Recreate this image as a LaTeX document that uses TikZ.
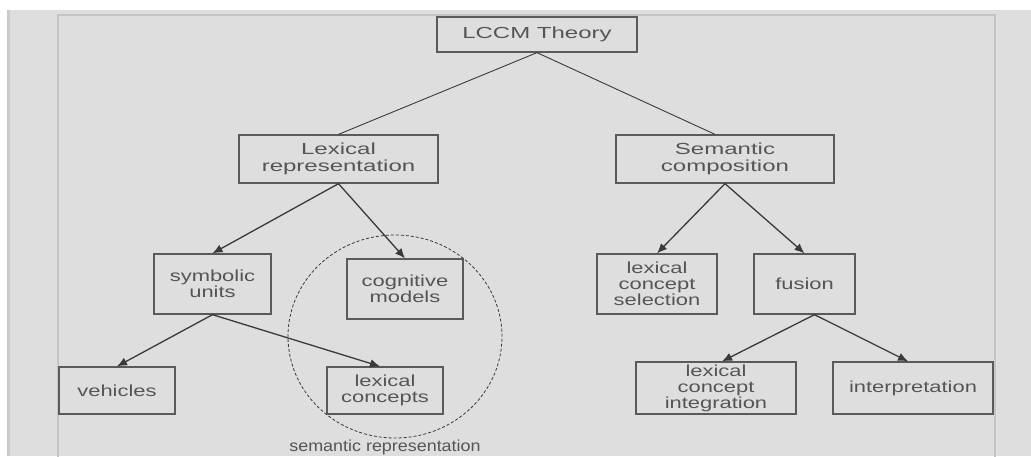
\documentclass[tikz,border=0pt]{standalone}
\usepackage{fontspec}
\setmainfont{Liberation Sans}
\newfontfamily\fbig{Liberation Sans}[FakeStretch=1.5]
\newfontfamily\fsmall{Liberation Sans}[FakeStretch=1.37]
\newfontfamily\flabel{Liberation Sans}[FakeStretch=1.12]
\usetikzlibrary{arrows.meta,calc}
\definecolor{bggray}{HTML}{DEDEDE}
\definecolor{edgegray}{HTML}{CACACA}
\definecolor{framegray}{HTML}{C4C4C4}
\definecolor{txtgray}{HTML}{555555}
\definecolor{boxgray}{HTML}{5A5A5A}
\definecolor{linegray}{HTML}{3A3A3A}
\tikzset{
  box/.style={draw=boxgray, line width=1.3pt, rectangle, align=center,
    text=txtgray, inner sep=0pt, font=\fontsize{16}{16.5}\selectfont},
  bigbox/.style={box, font=\fontsize{16}{16.5}\fbig},
  smallbox/.style={box, font=\fontsize{16}{16}\fsmall},
  plainline/.style={draw=linegray, line width=0.9pt},
  arrowline/.style={draw=linegray, line width=1.3pt, -{Latex[length=10pt,width=8.5pt]}},
}
\begin{document}
\begin{tikzpicture}[x=1pt,y=-1pt]
\useasboundingbox (0,0) rectangle (1031,456);
\fill[white] (0,0) rectangle (1031,456);
\fill[bggray] (7,10) rectangle (1031,456);
\fill[edgegray] (7,10) rectangle (10,456);
\draw[framegray, line width=2pt] (58,15) rectangle (995,480);

% nodes
\node[bigbox, minimum width=200pt, minimum height=35pt] (lccm) at (537,34.5) {LCCM Theory};
\node[bigbox, minimum width=199pt, minimum height=48pt] (lexrep) at (338.5,159) {Lexical\\representation};
\node[bigbox, minimum width=218pt, minimum height=48pt] (semcomp) at (725,159) {Semantic\\composition};
\node[smallbox, minimum width=117pt, minimum height=60pt] (symb) at (212.5,284) {symbolic\\units};
\node[smallbox, minimum width=116pt, minimum height=60pt] (cogm) at (405,289) {cognitive\\models};
\node[smallbox, minimum width=116pt, minimum height=47pt] (veh) at (117,390.5) {vehicles};
\node[smallbox, minimum width=116pt, minimum height=47pt] (lexc) at (385,390.5) {lexical\\concepts};
\node[smallbox, minimum width=120pt, minimum height=60pt] (lcs) at (657,284) {lexical\\concept\\selection};
\node[smallbox, minimum width=101pt, minimum height=60pt] (fus) at (804.5,284) {fusion};
\node[smallbox, minimum width=160pt, minimum height=52pt] (lci) at (716,388) {lexical\\concept\\integration};
\node[smallbox, minimum width=160pt, minimum height=52pt] (interp) at (913,388) {interpretation};

% semantic representation ellipse
\draw[linegray, line width=0.8pt, dash pattern=on 3pt off 2pt] (395,336.5) ellipse [x radius=107pt, y radius=101.5pt];
\node[anchor=base, text=txtgray, inner sep=0pt, font=\fontsize{16}{16}\flabel] (semrep) at (385,451) {semantic representation};

% connectors
\draw[plainline] (lccm.south) -- (lexrep.north);
\draw[plainline] (lccm.south) -- ($(semcomp.north)+(-10,0)$);
\draw[arrowline] (lexrep.south) -- (symb.north);
\draw[arrowline] (lexrep.south) -- (cogm.north);
\draw[arrowline] (semcomp.south) -- (lcs.north);
\draw[arrowline] (semcomp.south) -- (fus.north);
\draw[arrowline] (symb.south) -- (veh.north);
\draw[arrowline] (symb.south) -- ($(lexc.north)+(-5,0)$);
\draw[arrowline] ($(fus.south)+(10,0)$) -- ($(lci.north)+(6,0)$);
\draw[arrowline] ($(fus.south)+(10,0)$) -- ($(interp.north)+(-5,0)$);
\end{tikzpicture}
\end{document}
